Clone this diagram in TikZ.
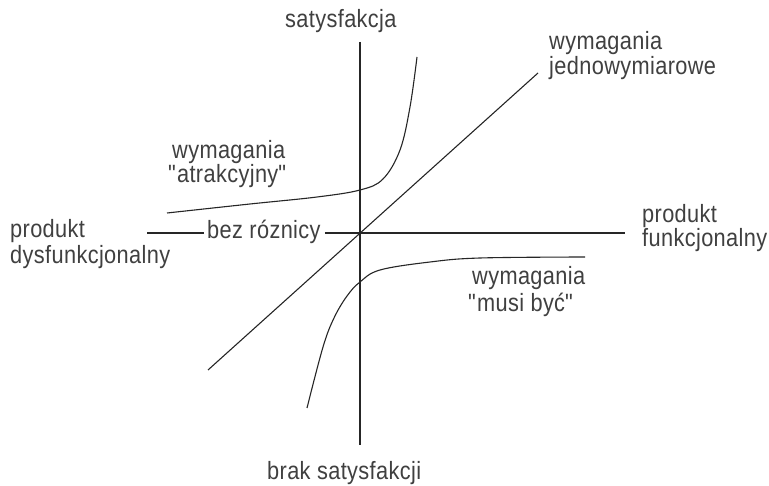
\documentclass[tikz,border=0pt]{standalone}
\usepackage{fontspec}
\setmainfont[FakeStretch=0.87,LetterSpace=1.5]{Liberation Sans}
\newcommand{\dq}{\textquotedbl}
\begin{document}
\begin{tikzpicture}[x=1pt,y=-1pt,
  lbl/.style={anchor=base west,inner sep=0pt,text=black!75,
    font=\fontsize{25}{30}\selectfont},
  ax/.style={line width=1.2pt,draw=black!85},
  crv/.style={line width=1.1pt,draw=black!85}]
\useasboundingbox[fill=white] (0,0) rectangle (769,486);

% axes
\coordinate (O) at (360,233);
\coordinate (vtop) at (360,42);
\coordinate (vbot) at (360,445);
\coordinate (hleft) at (147,233);
\coordinate (hright) at (625,233);
\node[lbl] (bez) at (207,239) {bez róznicy};
\draw[ax] (vtop) -- (vbot);
\draw[ax] (hleft) -- ([xshift=-3pt]bez.west |- O);
\draw[ax] ([xshift=4pt]bez.east |- O) -- (hright);

% one-dimensional requirements
\coordinate (d1) at (208,370);
\coordinate (d2) at (538,73);
\draw[crv] (d1) -- (d2);

% attractive requirements
\draw[crv] plot[smooth,tension=0.6] coordinates
  {(167,213) (250,204) (317,197) (360,190) (383,179) (400,150) (410,107) (417,57)};

% must-be requirements
\draw[crv] plot[smooth,tension=0.6] coordinates
  {(307,408) (323,347) (334,318) (347,296) (360,282) (380,270) (430,262) (480,258) (585,257)};

% labels
\node[lbl] (sat) at (285,28) {satysfakcja};
\node[lbl] (brak) at (267,479) {brak satysfakcji};
\node[lbl] (pd1) at (10,238) {produkt};
\node[lbl] (pd2) at (10,264) {dysfunkcjonalny};
\node[lbl] (pf1) at (642,223) {produkt};
\node[lbl] (pf2) at (642,247) {funkcjonalny};
\node[lbl] (wj1) at (549,50) {wymagania};
\node[lbl] (wj2) at (549,75) {jednowymiarowe};
\node[lbl] (wa1) at (172,159) {wymagania};
\node[lbl] (wa2) at (168,183) {\dq atrakcyjny\dq};
\node[lbl] (wm1) at (472,285) {wymagania};
\node[lbl] (wm2) at (468,312) {\dq musi być\dq};
\end{tikzpicture}
\end{document}
